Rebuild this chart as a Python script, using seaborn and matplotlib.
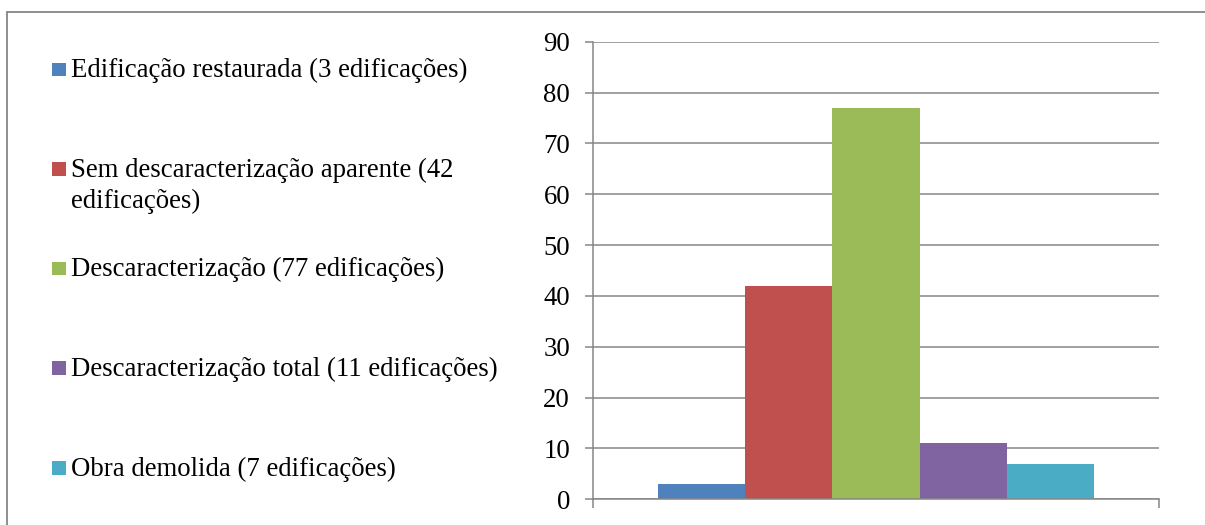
import matplotlib
matplotlib.use("Agg")
import matplotlib.pyplot as plt
from matplotlib.lines import Line2D
from matplotlib.patches import Rectangle
import pandas as pd
import seaborn as sns

# Building condition categories and counts
categorias = [
    "Edificação restaurada (3 edificações)",
    "Sem descaracterização aparente (42\nedificações)",
    "Descaracterização (77 edificações)",
    "Descaracterização total (11 edificações)",
    "Obra demolida (7 edificações)",
]
valores = [3, 42, 77, 11, 7]
cores = ["#4F81BD", "#C0504D", "#9BBB59", "#8064A2", "#4BACC6"]
yticks = [0, 10, 20, 30, 40, 50, 60, 70, 80, 90]

df = pd.DataFrame({"grupo": [""] * len(valores),
                   "categoria": categorias,
                   "valor": valores})

sns.set_theme(style="white")
plt.rcParams["font.family"] = ["Liberation Serif", "DejaVu Serif"]

W, H = 1205, 525
fig = plt.figure(figsize=(W / 100, H / 100), dpi=100)
fig.patch.set_facecolor("white")

grey = "#868686"
fs = 19.3
ax = fig.add_axes([592.7 / W, 1 - 499.3 / H, 566.6 / W, 457.6 / H])
sns.barplot(data=df, x="grupo", y="valor", hue="categoria",
            hue_order=categorias, palette=cores, width=0.771,
            saturation=1, legend=False, linewidth=0, ax=ax)

ax.set_xlim(-0.5, 0.5)
ax.set_ylim(0, 90)
ax.set_yticks(yticks)
ax.set_yticklabels([str(v) for v in yticks], fontsize=fs, color="black")
ax.set_xticks([-0.5, 0.5])
ax.set_xticklabels(["", ""])
ax.set_xlabel("")
ax.set_ylabel("")
ax.yaxis.grid(True, color=grey, linewidth=1.1)
ax.set_axisbelow(True)
for side in ["top", "right"]:
    ax.spines[side].set_visible(False)
for side in ["left", "bottom"]:
    ax.spines[side].set_color(grey)
    ax.spines[side].set_linewidth(1.1)
ax.tick_params(axis="y", which="major", direction="out", length=5.8,
               width=1.1, color=grey, pad=10.5, left=True)
ax.tick_params(axis="x", which="major", direction="out", length=6.5,
               width=1.1, color=grey, bottom=True)

# Legend column on the left
leg_y = [69.3, 169.0, 268.5, 368.0, 468.0]
box = 13.6
for lab, cor, yc in zip(categorias, cores, leg_y):
    fig.patches.append(Rectangle((52.3 / W, 1 - (yc + box / 2) / H),
                                 box / W, box / H, transform=fig.transFigure,
                                 facecolor=cor, edgecolor="none"))
    fig.text(71.0 / W, 1 - (yc - 11.2) / H, lab, fontsize=fs,
             color="black", ha="left", va="top", linespacing=1.32)

# Chart-area frame
fig.add_artist(Line2D([7.3 / W, 7.3 / W], [0, 1 - 12.3 / H],
                      transform=fig.transFigure, color=grey, linewidth=1.3))
fig.add_artist(Line2D([7.3 / W, 1], [1 - 12.3 / H, 1 - 12.3 / H],
                      transform=fig.transFigure, color=grey, linewidth=1.3))

fig.savefig("out.png", dpi=100)
